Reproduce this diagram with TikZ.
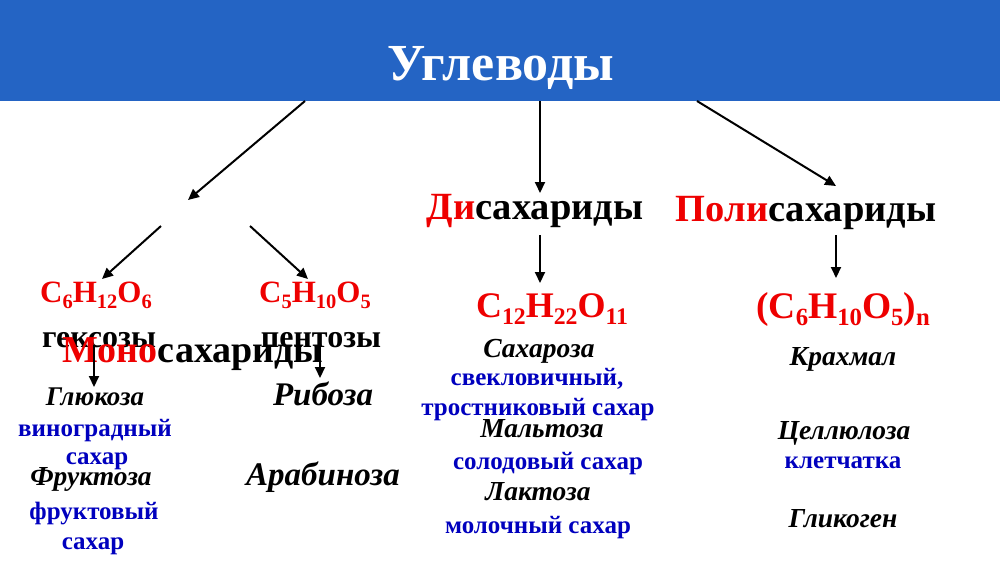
\documentclass[tikz,border=0pt]{standalone}
\usepackage{fontspec}
\usepackage{graphicx}
\setmainfont{Liberation Serif}
\usetikzlibrary{arrows.meta}
\definecolor{barblue}{RGB}{36,100,196}
\definecolor{tred}{RGB}{238,0,0}
\definecolor{tblue}{RGB}{0,0,190}
\newcommand{\lowr}[1]{\raisebox{-0.2em}{\scalebox{0.66}{#1}}}
\tikzset{
  txt/.style={inner sep=0pt, anchor=base, font=\bfseries\fontsize{#1}{#1}\selectfont},
  itx/.style={inner sep=0pt, anchor=base, font=\bfseries\itshape\fontsize{#1}{#1}\selectfont},
  bl/.style={txt=#1, text=tblue},
  frm/.style={txt=#1, text=tred},
  arr/.style={line width=2pt, -{Triangle[length=11pt,width=10pt]}},
}
\begin{document}
\begin{tikzpicture}[x=1pt,y=-1pt]
\useasboundingbox (0,0) rectangle (1000,563);
\fill[barblue] (0,0) rectangle (1000,101);
\node[txt=52, text=white] (title) at (501,80) {Углеводы};
% column 1
\coordinate (b1) at (305,101);
\coordinate (e1) at (188,200);
\coordinate (s2) at (161,226);
\coordinate (s3) at (250,226);
\node[frm=31] (f1) at (96,302) {C\lowr{6}H\lowr{12}O\lowr{6}};
\node[frm=31] (f2) at (315,302) {C\lowr{5}H\lowr{10}O\lowr{5}};
\node[txt=32] (hex) at (99,347) {гексозы};
\node[txt=32] (pent) at (321,347) {пентозы};
\node[txt=38] (mono) at (193,362) {\textcolor{tred}{Моно}сахариды};
\coordinate (g0) at (94,345);
\coordinate (r0) at (320,347);
\node[itx=27] (glu) at (95,405) {Глюкоза};
\node[bl=25] (glu1) at (95,436) {виноградный};
\node[bl=25] (glu2) at (97,464) {сахар};
\node[itx=27.5] (fru) at (91,485) {Фруктоза};
\node[bl=25] (fru1) at (94,519) {фруктовый};
\node[bl=25] (fru2) at (93,549) {сахар};
\node[itx=33] (rib) at (323,405) {Рибоза};
\node[itx=33] (ara) at (323,485) {Арабиноза};
% column 2
\coordinate (b2) at (540,101);
\node[txt=38.5] (di) at (535,219) {\textcolor{tred}{Ди}сахариды};
\node[frm=36] (f3) at (552,317) {C\lowr{12}H\lowr{22}O\lowr{11}};
\node[itx=27.5] (sah) at (539,357) {Сахароза};
\node[bl=25] (sah1) at (537,385) {свекловичный,};
\node[bl=25] (sah2) at (538,415) {тростниковый сахар};
\node[itx=27.5] (mal) at (542,437) {Мальтоза};
\node[bl=25] (mal1) at (548,469) {солодовый сахар};
\node[itx=27.5] (lak) at (538,500) {Лактоза};
\node[bl=25] (lak1) at (538,533) {молочный сахар};
% column 3
\coordinate (b3) at (697,101);
\node[txt=38.5] (poly) at (806,221) {\textcolor{tred}{Поли}сахариды};
\node[frm=37.5] (f4) at (843,318) {(C\lowr{6}H\lowr{10}O\lowr{5})\lowr{n}};
\node[itx=27.5] (kra) at (843,365) {Крахмал};
\node[itx=27.5] (cel) at (844,439) {Целлюлоза};
\node[bl=25] (cel1) at (843,468) {клетчатка};
\node[itx=27.5] (gli) at (843,527) {Гликоген};
% arrows
\draw[arr] (b1) -- (e1);
\draw[arr] (b2) -- (540,193);
\draw[arr] (b3) -- (836,186);
\draw[arr] (s2) -- (102,279);
\draw[arr] (s3) -- (308,279);
\draw[arr] (540,235) -- (540,283);
\draw[arr] (836,235) -- (836,278);
\draw[arr] (g0) -- (94,387);
\draw[arr] (r0) -- (320,378);
\end{tikzpicture}
\end{document}
